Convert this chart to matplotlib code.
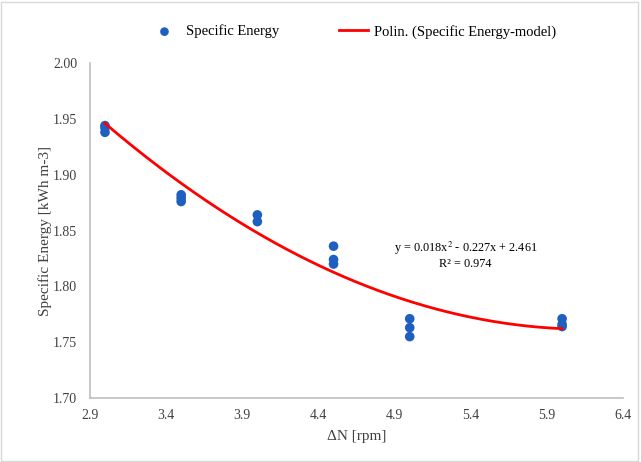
import numpy as np
import matplotlib
matplotlib.use("Agg")
import matplotlib.pyplot as plt
from matplotlib.patches import Rectangle

plt.rcParams['font.family'] = ['Liberation Serif', 'DejaVu Serif']

delta_n = [3.0, 3.0, 3.0, 3.5, 3.5, 3.5, 4.0, 4.0, 4.5, 4.5, 4.5, 5.0, 5.0, 5.0, 6.0, 6.0, 6.0]
energy = [1.944, 1.942, 1.938, 1.882, 1.879, 1.876, 1.864, 1.858, 1.836, 1.824, 1.820,
          1.771, 1.763, 1.755, 1.771, 1.766, 1.764]
trend_coef = [0.0184, -0.2269, 2.4611]
xticks = [2.9, 3.4, 3.9, 4.4, 4.9, 5.4, 5.9, 6.4]
yticks = [1.70, 1.75, 1.80, 1.85, 1.90, 1.95, 2.00]

fig = plt.figure(figsize=(6.41, 4.62), dpi=100)
ax = fig.add_axes([0.140, 0.1385, 0.832, 0.725])

xs = np.linspace(min(delta_n), max(delta_n), 200)
ax.scatter(delta_n, energy, s=48, color='#1F5FC0', zorder=3, label='Specific Energy', edgecolors='none')
ax.plot(xs, np.polyval(trend_coef, xs), color='#FF0000', lw=2, zorder=4,
        label='Polin. (Specific Energy-model)')

ax.set_xlim(2.9, 6.4)
ax.set_ylim(1.70, 2.00)
ax.set_xticks(xticks)
ax.set_xticklabels([f"{v:.1f}" for v in xticks])
ax.set_yticks(yticks)
ax.set_yticklabels([f"{v:.2f}" for v in yticks])
ax.tick_params(labelsize=10, colors='#404040', length=0)
ax.tick_params(axis='x', pad=8)
ax.tick_params(axis='y', pad=9)
for s in ['top', 'right']:
    ax.spines[s].set_visible(False)
for s in ['left', 'bottom']:
    ax.spines[s].set_color('#BFBFBF')
    ax.spines[s].set_linewidth(1.2)

ax.set_xlabel('ΔN [rpm]', fontsize=11, color='#404040', labelpad=6)
ax.set_ylabel('Specific Energy [kWh m-3]', fontsize=11, color='#404040', labelpad=1)

ax.text(0.705, 0.428, 'y = 0.018x$^2$ - 0.227x + 2.461\nR² = 0.974', transform=ax.transAxes,
        ha='center', va='center', fontsize=8.8, color='#000000', linespacing=1.15,
        math_fontfamily='stix')

fig.legend(loc='upper center', bbox_to_anchor=(0.551, 0.975), ncol=2, frameon=False,
           fontsize=10.5, handlelength=2.0, handletextpad=0.45, columnspacing=4.1,
           markerscale=0.9)

fig.patches.append(Rectangle((0.002, 0.003), 0.994, 0.992, transform=fig.transFigure,
                             fill=False, edgecolor='#D9D9D9', lw=1))

fig.savefig('out.png', dpi=100)
